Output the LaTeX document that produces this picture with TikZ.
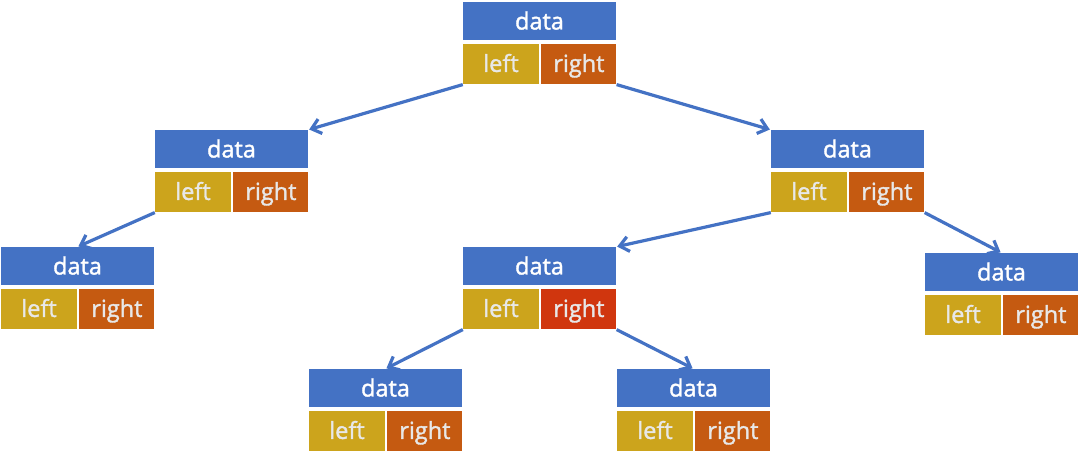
\documentclass[tikz,border=0pt]{standalone}
\usepackage{fontspec}
\setmainfont{Open Sans}
\newfontfamily\cellfont{Open Sans}[FakeBold=1.6]
\usetikzlibrary{positioning,arrows.meta}

\definecolor{datablue}{HTML}{4472C4}
\definecolor{leftgold}{HTML}{CCA41C}
\definecolor{rightorange}{HTML}{C55A11}
\definecolor{rightred}{HTML}{D0360E}
\definecolor{celltext}{HTML}{E8E8E8}

\begin{document}
\begin{tikzpicture}[
  x=1pt, y=1pt,
  font=\cellfont\fontsize{23.5}{28}\selectfont,
  >={Straight Barb[length=9pt, width=15pt]},
  databox/.style={fill=datablue, text=white, minimum width=153pt,
                  minimum height=38pt, inner sep=0pt, text height=17pt, text depth=0pt},
  leftbox/.style={fill=leftgold, text=celltext, minimum width=76pt,
                  minimum height=40pt, inner sep=0pt, text height=15pt, text depth=0pt},
  rightbox/.style={leftbox, minimum width=75pt},
  arr/.style={->, line width=3.2pt, datablue, shorten >=1pt},
]
\useasboundingbox (0,0) rectangle (1080,454);

%% ---------- tree nodes: data cell on top, left/right cells below ----------
\foreach \n/\x/\y/\rc in {n0/539.5/433/rightorange, n1/231.5/305/rightorange,
    n2/847.5/305/rightorange, n3/77.5/188/rightorange, n4/539.5/188/rightred,
    n5/1001.5/182/rightorange, n6/385.5/66/rightorange, n7/693.5/66/rightorange}{
  \node[databox] (\n) at (\x,\y) {data};
  \node[leftbox, below=4pt of \n.south west, anchor=north west] (\n-l) {left};
  \node[rightbox, fill=\rc, right=2pt of \n-l] (\n-r) {right};
}

%% ---------- child pointers ----------
\draw[arr] (n0-l.south west) -- (n1.north east);
\draw[arr] (n0-r.south east) -- (n2.north west);
\draw[arr] (n1-l.south west) -- (n3.north);
\draw[arr] (n2-l.south west) -- (n4.north east);
\draw[arr] (n2-r.south east) -- (n5.north);
\draw[arr] (n4-l.south west) -- (n6.north);
\draw[arr] (n4-r.south east) -- (n7.north);

\end{tikzpicture}
\end{document}
